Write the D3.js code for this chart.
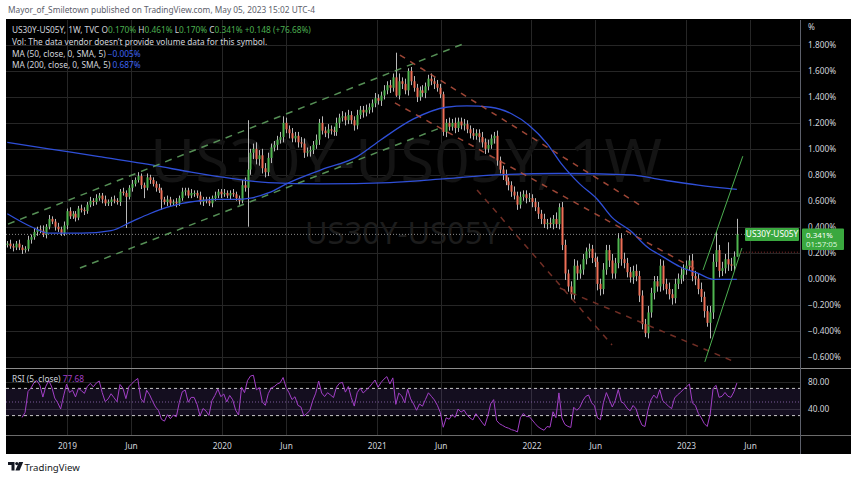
<!DOCTYPE html>
<html><head><meta charset="utf-8">
<script src="https://cdn.jsdelivr.net/npm/d3@7"></script>
<style>body{margin:0;background:#fff;}svg{display:block;font-family:"Noto Sans",sans-serif;}</style>
</head><body><svg id="c" width="853" height="480"></svg>
<script>
// ---------- DATA ----------
const firstWeek = Date.UTC(2018, 7, 13);   // Monday of first weekly bar
const firstOpen = 0.26;
const closes = [
0.27,0.25,0.24,0.27,0.24,0.22,0.23,0.30,0.32,0.36,
0.38,0.37,0.34,0.40,0.46,0.44,0.40,0.38,0.35,0.41,
0.52,0.48,0.50,0.47,0.54,0.53,0.52,0.57,0.60,0.59,
0.62,0.64,0.61,0.58,0.59,0.61,0.60,0.59,0.67,0.66,
0.63,0.70,0.73,0.76,0.79,0.72,0.70,0.78,0.76,0.73,
0.70,0.68,0.61,0.59,0.61,0.58,0.59,0.58,0.62,0.67,
0.68,0.64,0.66,0.66,0.64,0.59,0.61,0.60,0.58,0.62,
0.64,0.67,0.65,0.66,0.64,0.66,0.65,0.62,0.60,0.72,
0.70,0.84,0.97,1.00,0.92,0.95,0.85,0.82,0.93,1.01,
1.03,1.07,1.09,1.20,1.15,1.12,1.08,1.10,1.05,1.04,
0.97,0.98,0.99,1.03,1.07,1.20,1.14,1.12,1.15,1.14,
1.13,1.20,1.24,1.25,1.22,1.26,1.22,1.18,1.26,1.30,
1.28,1.30,1.32,1.35,1.39,1.37,1.41,1.45,1.49,1.47,
1.55,1.41,1.52,1.50,1.45,1.60,1.52,1.47,1.40,1.45,
1.43,1.48,1.54,1.52,1.50,1.47,1.42,1.13,1.20,1.17,
1.20,1.16,1.21,1.18,1.19,1.15,1.12,1.10,1.12,1.09,
1.05,1.00,1.03,1.08,1.10,0.91,0.84,0.80,0.75,0.72,
0.67,0.64,0.57,0.63,0.65,0.62,0.62,0.59,0.55,0.50,
0.46,0.42,0.43,0.42,0.46,0.42,0.55,0.26,0.04,-0.06,
-0.12,0.10,0.04,0.07,0.15,0.21,0.23,0.16,0.13,-0.04,
-0.08,0.07,0.22,0.14,0.04,0.12,0.31,0.15,0.12,0.05,
0.01,0.06,0.02,-0.13,-0.35,-0.42,-0.26,-0.11,-0.02,-0.06,
0.10,-0.04,-0.08,-0.12,-0.15,-0.04,0.00,0.03,0.07,0.10,
0.14,0.02,0.00,-0.08,-0.14,-0.25,-0.34,-0.26,0.13,0.22,
0.06,0.08,0.15,0.11,0.10,0.17,0.341];
const wickUp = [
.02,.03,.02,.02,.03,.02,.02,.03,.02,.03,
.02,.03,.04,.02,.03,.02,.02,.03,.02,.03,
.02,.03,.02,.02,.02,.03,.02,.02,.03,.02,
.03,.02,.02,.03,.02,.02,.03,.02,.02,.03,
.02,.02,.03,.02,.03,.02,.02,.03,.02,.02,
.02,.03,.02,.02,.03,.02,.02,.03,.02,.03,
.02,.02,.03,.02,.02,.03,.02,.02,.03,.02,
.03,.02,.02,.03,.02,.02,.03,.02,.02,.04,
.06,.38,.03,.04,.05,.04,.05,.04,.04,.03,
.03,.03,.04,.05,.04,.03,.04,.03,.03,.04,
.04,.03,.03,.03,.04,.03,.05,.03,.04,.03,
.03,.04,.03,.04,.03,.04,.03,.03,.04,.03,
.03,.04,.03,.03,.04,.03,.03,.04,.03,.04,
.03,.19,.06,.03,.04,.02,.03,.04,.03,.03,
.04,.03,.03,.04,.03,.03,.03,.02,.03,.04,
.03,.04,.03,.03,.04,.03,.03,.04,.03,.03,
.04,.03,.04,.03,.03,.04,.03,.03,.04,.03,
.03,.04,.03,.04,.03,.03,.04,.03,.03,.04,
.03,.04,.03,.04,.03,.05,.03,.04,.04,.03,
.04,.05,.04,.04,.04,.03,.04,.03,.04,.04,
.04,.05,.04,.04,.05,.04,.04,.04,.05,.04,
.04,.04,.05,.04,.04,.04,.05,.04,.04,.04,
.05,.04,.04,.05,.04,.04,.04,.05,.04,.04,
.04,.05,.04,.04,.05,.04,.04,.05,.06,.14,
.04,.05,.04,.13,.05,.04,.12];
const wickDn = [
.02,.02,.03,.02,.02,.03,.02,.02,.03,.02,
.03,.02,.02,.03,.02,.02,.03,.02,.02,.02,
.03,.02,.02,.03,.02,.02,.03,.02,.02,.03,
.02,.02,.03,.02,.02,.03,.02,.02,.03,.02,
.24,.02,.03,.02,.02,.03,.08,.02,.03,.02,
.03,.02,.08,.02,.03,.02,.02,.03,.02,.02,
.03,.02,.02,.03,.02,.02,.03,.02,.02,.03,
.02,.02,.03,.02,.02,.03,.02,.02,.03,.02,
.03,.30,.04,.05,.04,.05,.04,.04,.03,.04,
.03,.04,.03,.04,.03,.04,.03,.03,.04,.03,
.04,.03,.04,.03,.03,.04,.03,.03,.04,.03,
.03,.03,.04,.03,.04,.03,.03,.04,.03,.03,
.04,.03,.03,.04,.03,.03,.04,.03,.03,.04,
.03,.01,.03,.04,.03,.04,.03,.03,.04,.03,
.03,.04,.03,.03,.04,.03,.03,.03,.04,.03,
.03,.04,.03,.03,.04,.03,.04,.03,.03,.04,
.04,.04,.03,.03,.04,.04,.03,.04,.03,.04,
.04,.03,.04,.03,.03,.04,.03,.04,.03,.04,
.04,.03,.04,.03,.04,.03,.04,.04,.05,.04,
.04,.04,.05,.04,.04,.04,.05,.04,.04,.05,
.05,.04,.04,.05,.04,.04,.04,.05,.04,.04,
.04,.05,.04,.05,.04,.03,.04,.04,.05,.04,
.04,.05,.04,.04,.05,.04,.04,.04,.05,.04,
.04,.04,.05,.04,.04,.05,.03,.12,.05,.04,
.05,.04,.04,.05,.04,.04,.00];
// moving averages (week index -> value)
const ma50Weeks  = [0,9,14,25,35,42,48,54,59,65,71,77,82,88,95,106,118,126,137,148,155,163,170,176,182,187,193,199,204,210,216,221,227,233,238,246];
const ma50Values = [0.50,0.39,0.35,0.35,0.37,0.44,0.50,0.55,0.58,0.60,0.61,0.61,0.62,0.66,0.74,0.84,0.94,1.07,1.23,1.32,1.33,1.32,1.27,1.18,1.04,0.88,0.73,0.61,0.47,0.37,0.24,0.17,0.09,0.04,-0.005,-0.005];
const ma200Weeks  = [0,14,31,50,62,76,88,106,129,148,165,186,210,221,233,246];
const ma200Values = [1.05,1.00,0.94,0.87,0.82,0.77,0.74,0.73,0.74,0.77,0.80,0.81,0.80,0.76,0.72,0.687];
// user drawings: [weekStart, valueStart, weekEnd, valueEnd]
const greenDashed = [[0.25,0.42,153.6,1.807],[24.5,0.082,145.9,1.160]];
const redDashed   = [[132.4,1.722,213.3,0.567],[130.7,1.353,232.5,0.067]];
const redDashedDark = [[158.4,0.683,203.9,-0.510],[186.3,-0.072,245.3,-0.641]];
const greenSolid  = [[234.6,0.067,248.0,0.943],[235.2,-0.641,247.7,0.236]];
const yTicks = [1.8,1.6,1.4,1.2,1.0,0.8,0.6,0.4,0.2,0.0,-0.2,-0.4,-0.6];
const rsiTicks = [80,40];
const timeTicks  = ["2019-01-01","2019-06-01","2020-01-01","2020-06-01","2021-01-01","2021-06-01","2022-01-01","2022-06-01","2023-01-01","2023-06-01"];
const timeLabels = ["2019","Jun","2020","Jun","2021","Jun","2022","Jun","2023","Jun"];
const lastPrice = 0.341, prevCloseLine = 0.204;
const symbol = "US30Y-US05Y";
const countdown = "01:57:05";
const rsiLast = "77.68";
const legendOHLC = [["O","0.170%"],["H","0.461%"],["L","0.170%"],["C","0.341%"]];
const legendChange = "+0.148 (+76.68%)";
const ma50Last = "\u22120.005%", ma200Last = "0.687%";

// ---------- LAYOUT ----------
const svg = d3.select("#c");
const L=6, R=800, T=20, MB=368, RB=435, AB=454, RR=851;
const DAY=864e5;
const wk = w => new Date(firstWeek + w*7*DAY);
const x = d3.scaleUtc().domain([new Date(Date.UTC(2018,7,10)), new Date(Date.UTC(2023,8,27))]).range([L,R]);
const y = d3.scaleLinear().domain([-0.6,1.8]).range([356.6,44.9]);
const yr = d3.scaleLinear().domain([0,100]).range([436,368]);
const UP="#4fb54f", DN="#ee6f57", WICK="#b9b9b9", GRID="#262626", TXT="#d1d4dc";
const fmtPct = v => (v<0?"\u2212":"") + Math.abs(v).toFixed(3) + "%";

// header
svg.append("text").attr("x",8).attr("y",13).attr("font-size",8.3).attr("fill","#5d606b")
  .text("Mayor_of_Smiletown published on TradingView.com, May 05, 2023 15:02 UTC-4");
// chart background
svg.append("rect").attr("x",L).attr("y",T-1).attr("width",RR-L).attr("height",AB-T+1).attr("fill","#000");

const defs = svg.append("defs");
defs.append("clipPath").attr("id","cm").append("rect").attr("x",L).attr("y",T).attr("width",R-L).attr("height",MB-T);
defs.append("clipPath").attr("id","cr").append("rect").attr("x",L).attr("y",MB+1).attr("width",R-L).attr("height",RB-MB-1);

// grid
const tDates = timeTicks.map(s=>new Date(s+"T00:00:00Z"));
const grid = svg.append("g");
grid.selectAll(".gv").data(tDates).join("line").attr("x1",d=>Math.round(x(d))+0.5).attr("x2",d=>Math.round(x(d))+0.5)
  .attr("y1",T).attr("y2",RB).attr("stroke",GRID);
grid.selectAll(".gh").data(yTicks).join("line").attr("x1",L).attr("x2",R)
  .attr("y1",d=>Math.round(y(d))+0.5).attr("y2",d=>Math.round(y(d))+0.5).attr("stroke",GRID);
grid.selectAll(".gr").data(rsiTicks).join("line").attr("x1",L).attr("x2",R)
  .attr("y1",d=>Math.round(yr(d))+0.5).attr("y2",d=>Math.round(yr(d))+0.5).attr("stroke",GRID);

// watermark
const main = svg.append("g").attr("clip-path","url(#cm)");
main.append("text").attr("x",150).attr("y",182).attr("font-size",60).attr("fill","#141414")
  .attr("textLength",512).attr("lengthAdjust","spacingAndGlyphs").text(symbol+", 1W");
main.append("text").attr("x",305).attr("y",244).attr("font-size",30).attr("fill","#1c1c1c")
  .attr("textLength",195).attr("lengthAdjust","spacingAndGlyphs").text(symbol);

// last price dotted line
main.append("line").attr("x1",L).attr("x2",R).attr("y1",y(lastPrice)).attr("y2",y(lastPrice))
  .attr("stroke","#8a8a8a").attr("stroke-dasharray","1,2");

// candles
const candles = closes.map((c,i)=>{
  const o = i===0?firstOpen:closes[i-1];
  return {d:wk(i), o, c, h:Math.max(o,c)+wickUp[i], l:Math.min(o,c)-wickDn[i]};
});
const cg = main.append("g");
cg.selectAll(".w").data(candles).join("line")
  .attr("x1",d=>Math.round(x(d.d))+0.5).attr("x2",d=>Math.round(x(d.d))+0.5)
  .attr("y1",d=>y(d.h)).attr("y2",d=>y(d.l)).attr("stroke",WICK).attr("stroke-width",1);
cg.selectAll(".b").data(candles).join("rect")
  .attr("x",d=>Math.round(x(d.d))-0.5).attr("width",2)
  .attr("y",d=>y(Math.max(d.o,d.c))).attr("height",d=>Math.max(1,Math.abs(y(d.o)-y(d.c))))
  .attr("fill",d=>d.c>=d.o?UP:DN);

// moving averages
const lineGen = d3.line().x(d=>x(wk(d[0]))).y(d=>y(d[1])).curve(d3.curveMonotoneX);
main.append("path").attr("d",lineGen(ma200Weeks.map((w,i)=>[w,ma200Values[i]]))).attr("fill","none").attr("stroke","#2f4fd8").attr("stroke-width",1.3);
main.append("path").attr("d",lineGen(ma50Weeks.map((w,i)=>[w,ma50Values[i]]))).attr("fill","none").attr("stroke","#2f4fd8").attr("stroke-width",1.3);

// drawings
function seg(g, arr, col, w, dash, op){
  g.selectAll(null).data(arr).join("line")
   .attr("x1",d=>x(wk(d[0]))).attr("y1",d=>y(d[1])).attr("x2",d=>x(wk(d[2]))).attr("y2",d=>y(d[3]))
   .attr("stroke",col).attr("stroke-width",w).attr("stroke-dasharray",dash).attr("opacity",op);
}
const dg = main.append("g");
seg(dg, greenDashed, "#5f9f5f", 1.5, "7,6", 0.9);
seg(dg, redDashed, "#b8523f", 1.5, "6,6", 0.85);
seg(dg, redDashedDark, "#7d3329", 1.5, "6,6", 0.9);
seg(dg, greenSolid, "#4caf50", 1, null, 1);
main.append("line").attr("x1",x(wk(246))+3).attr("x2",R).attr("y1",y(prevCloseLine)).attr("y2",y(prevCloseLine))
  .attr("stroke","#8b2e2e").attr("stroke-dasharray","1,2");

// RSI (Wilder, length 5) computed from the closes, shown after warm-up
const rsi = [];
let ag=0, al=0;
for(let i=1;i<closes.length;i++){
  const ch = closes[i]-closes[i-1], g=Math.max(ch,0), l=Math.max(-ch,0);
  const n = Math.min(i,5);
  ag = (ag*(n-1)+g)/n; al = (al*(n-1)+l)/n;
  if(i>=5) rsi.push([i, al===0?100:100-100/(1+ag/al)]);
}
const rg = svg.append("g").attr("clip-path","url(#cr)");
rg.append("rect").attr("x",L).attr("width",R-L).attr("y",yr(70)).attr("height",yr(30)-yr(70)).attr("fill","#7e57c2").attr("opacity",0.16);
[70,30].forEach(v=>rg.append("line").attr("x1",L).attr("x2",R).attr("y1",yr(v)).attr("y2",yr(v)).attr("stroke","#c9c9c9").attr("stroke-dasharray","3,3"));
rg.append("line").attr("x1",L).attr("x2",R).attr("y1",yr(50)).attr("y2",yr(50)).attr("stroke","#7a5a9a").attr("stroke-dasharray","1,2");
rg.append("path").attr("d",d3.line().x(d=>x(wk(d[0]))).y(d=>yr(d[1]))(rsi)).attr("fill","none").attr("stroke","#a23fc6").attr("stroke-width",1);

// separators
svg.append("line").attr("x1",L).attr("x2",RR).attr("y1",MB+0.5).attr("y2",MB+0.5).attr("stroke","#8c8c8c");
svg.append("line").attr("x1",L).attr("x2",RR).attr("y1",RB+0.5).attr("y2",RB+0.5).attr("stroke","#6b6b6b");
svg.append("line").attr("x1",R+0.5).attr("x2",R+0.5).attr("y1",T).attr("y2",AB).attr("stroke","#5d606b");

// right price axis
const ya = svg.append("g").attr("transform",`translate(${R+3},0)`)
  .call(d3.axisRight(y).tickValues(yTicks).tickSize(0).tickPadding(5).tickFormat(fmtPct));
ya.select(".domain").remove();
ya.selectAll("text").attr("fill",TXT).attr("font-size",8.3).attr("font-family","Noto Sans");
svg.append("text").attr("x",808).attr("y",30).attr("font-size",8.3).attr("fill",TXT).text("%");
const ra = svg.append("g").attr("transform",`translate(${R+3},0)`)
  .call(d3.axisRight(yr).tickValues(rsiTicks).tickSize(0).tickPadding(5).tickFormat(d3.format(".2f")));
ra.select(".domain").remove();
ra.selectAll("text").attr("fill",TXT).attr("font-size",8.3).attr("font-family","Noto Sans");

// time axis
const xa = svg.append("g").attr("transform",`translate(0,${RB})`)
  .call(d3.axisBottom(x).tickValues(tDates).tickSize(0).tickPadding(8).tickFormat((d,i)=>timeLabels[i]));
xa.select(".domain").remove();
xa.selectAll("text").attr("fill",TXT).attr("font-size",8.3).attr("font-family","Noto Sans");

// price labels
const GL="#3aa83f";
const py = y(lastPrice);
svg.append("rect").attr("x",745).attr("y",py-6.5).attr("width",54).attr("height",13).attr("fill",GL).attr("rx",1);
svg.append("text").attr("x",772).attr("y",py+3).attr("text-anchor","middle").attr("font-size",8.3).attr("fill","#fff").text(symbol);
svg.append("rect").attr("x",R+2).attr("y",py-6).attr("width",42).attr("height",21.5).attr("fill",GL).attr("rx",1);
svg.append("text").attr("x",R+6).attr("y",py+3.4).attr("font-size",7.9).attr("fill","#fff").text(fmtPct(lastPrice));
svg.append("text").attr("x",R+6).attr("y",py+12.4).attr("font-size",7.9).attr("fill","#d8f5d8").text(countdown);

// legend
const lg = svg.append("g").attr("font-size",8.3);
const l1 = lg.append("text").attr("x",12).attr("y",33).attr("fill",TXT);
l1.append("tspan").text(symbol+", 1W, TVC ");
legendOHLC.forEach(([k,v])=>{ l1.append("tspan").text(" "+k); l1.append("tspan").attr("fill","#4caf50").text(v); });
l1.append("tspan").attr("fill","#4caf50").text("  "+legendChange);
lg.append("text").attr("x",12).attr("y",45).attr("fill",TXT).text("Vol: The data vendor doesn\u2019t provide volume data for this symbol.");
const l3 = lg.append("text").attr("x",12).attr("y",57).attr("fill",TXT);
l3.append("tspan").text("MA (50, close, 0, SMA, 5)  "); l3.append("tspan").attr("fill","#3d63f0").text(ma50Last);
const l4 = lg.append("text").attr("x",12).attr("y",68).attr("fill",TXT);
l4.append("tspan").text("MA (200, close, 0, SMA, 5)  "); l4.append("tspan").attr("fill","#3d63f0").text(ma200Last);
const l5 = lg.append("text").attr("x",12).attr("y",382).attr("fill",TXT);
l5.append("tspan").text("RSI (5, close)  "); l5.append("tspan").attr("fill","#a23fc6").text(rsiLast);

// footer
const f = svg.append("g").attr("fill","#131722");
f.append("path").attr("d","M8 462h6.5v8.5h-3v-5.5h-3.5z");
f.append("circle").attr("cx",16.8).attr("cy",463.6).attr("r",1.6);
f.append("path").attr("d","M19 462h4.2l-3.6 8.5h-4.2z");
f.append("text").attr("x",24.5).attr("y",470.5).attr("font-size",9.6).attr("fill","#131722").text("TradingView");
</script></body></html>
